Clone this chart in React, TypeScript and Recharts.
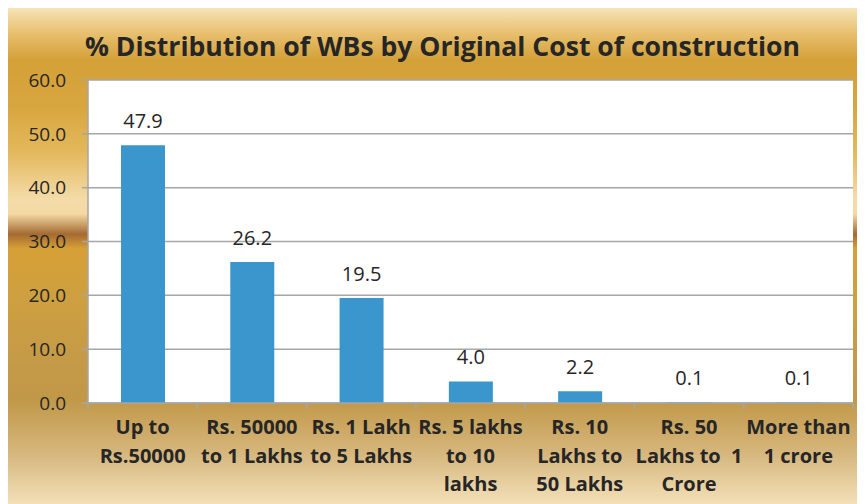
import React from "react";
import { BarChart, Bar, XAxis, YAxis, CartesianGrid, LabelList } from "recharts";

const categories = [
  "Up to Rs.50000",
  "Rs. 50000 to 1 Lakhs",
  "Rs. 1 Lakh to 5 Lakhs",
  "Rs. 5 lakhs to 10 lakhs",
  "Rs. 10 Lakhs to 50 Lakhs",
  "Rs. 50 Lakhs to 1 Crore",
  "More than 1 crore",
];

const shares = [47.9, 26.2, 19.5, 4.0, 2.2, 0.1, 0.1];

// wrapped tick labels, as the original breaks them
const tickLines = [
  ["Up to", "Rs.50000"],
  ["Rs. 50000", "to 1 Lakhs"],
  ["Rs. 1 Lakh", "to 5 Lakhs"],
  ["Rs. 5 lakhs", "to 10", "lakhs"],
  ["Rs. 10", "Lakhs to", "50 Lakhs"],
  ["Rs. 50", "Lakhs to  1", "Crore"],
  ["More than", "1 crore"],
];

const yTicks = [0, 10, 20, 30, 40, 50, 60];

const title = "% Distribution of WBs by Original Cost of construction";

const data = categories.map((c, i) => ({ name: c, value: shares[i] }));

const W = 857;
const H = 496;
const margin = { top: 72, right: 12, bottom: 0, left: 20 };
const yAxisW = 60;
const xAxisH = 101;
const band = (W - margin.left - margin.right - yAxisW) / categories.length;
const font = "'Open Sans', 'Noto Sans', sans-serif";
const gridColor = "#a6a6a6";

function CategoryTick(props) {
  const { x, y, index } = props;
  const lines = tickLines[index] || [];
  const last = index === categories.length - 1;
  return (
    <g>
      <line x1={x - band / 2} x2={x - band / 2} y1={y} y2={y + 6} stroke={gridColor} strokeWidth={1.5} />
      {last && (
        <line x1={x + band / 2} x2={x + band / 2} y1={y} y2={y + 6} stroke={gridColor} strokeWidth={1.5} />
      )}
      {lines.map((ln, k) => (
        <text
          key={k}
          x={x}
          y={y + 31 + k * 28.5}
          textAnchor="middle"
          fontFamily={font}
          fontWeight="bold"
          fontSize={20}
          fill="#262626"
          style={{ whiteSpace: "pre" }}
        >
          {ln}
        </text>
      ))}
    </g>
  );
}

export default function App() {
  return (
    <div
      style={{
        position: "relative",
        width: W,
        height: H,
        background:
          "linear-gradient(to bottom, #f7e4b6 0%, #e8c070 5%, #d4a038 10.5%, #d8a63f 20%, #e3b85c 29%, #f4dba8 38.5%, #f4d9a4 41.5%, #a46a32 45.6%, #d6a036 48.5%, #cfa040 58%, #c49a48 72%, #c19848 79%, #d6b77e 90%, #f3e0b8 100%)",
      }}
    >
      <svg width={W} height={70} style={{ position: "absolute", left: 0, top: 0, pointerEvents: "none" }}>
        <text
          x={434.5}
          y={48}
          textAnchor="middle"
          fontFamily={font}
          fontWeight="bold"
          fontSize={27}
          fill="#262626"
          textLength={715}
          lengthAdjust="spacingAndGlyphs"
        >
          {title}
        </text>
      </svg>
      <BarChart width={W} height={H} data={data} margin={margin} barSize={44}>
        <CartesianGrid
          vertical={false}
          stroke={gridColor}
          strokeWidth={1.5}
          fill="#ffffff"
          fillOpacity={1}
        />
        <XAxis
          dataKey="name"
          interval={0}
          height={xAxisH}
          tickSize={0}
          tickMargin={0}
          tickLine={false}
          axisLine={{ stroke: gridColor, strokeWidth: 1.5 }}
          tick={<CategoryTick />}
        />
        <YAxis
          width={yAxisW}
          domain={[0, 60]}
          ticks={yTicks}
          interval={0}
          tickFormatter={(v) => v.toFixed(1)}
          tickSize={6}
          tickMargin={16}
          axisLine={{ stroke: gridColor, strokeWidth: 1.5 }}
          tickLine={{ stroke: gridColor, strokeWidth: 1.5 }}
          tick={{ fontFamily: font, fontSize: 19, fill: "#262626" }}
        />
        <Bar dataKey="value" fill="#3a96cd" isAnimationActive={false}>
          <LabelList
            dataKey="value"
            position="top"
            offset={17}
            formatter={(v) => v.toFixed(1)}
            style={{ fontFamily: font, fontSize: 20, fill: "#262626" }}
          />
        </Bar>
      </BarChart>
    </div>
  );
}
